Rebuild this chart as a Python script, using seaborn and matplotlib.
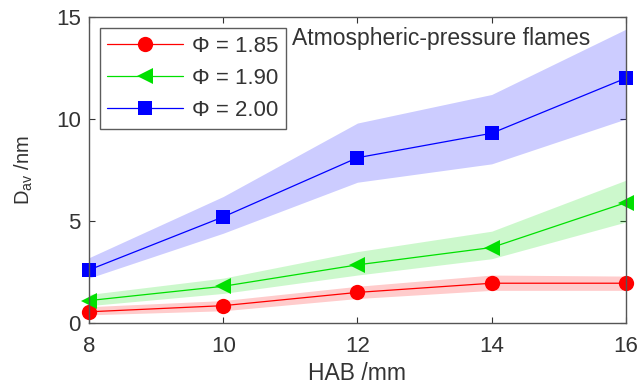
import numpy as np
import pandas as pd
import matplotlib
matplotlib.use("Agg")
import matplotlib.pyplot as plt
import seaborn as sns

hab = [8, 10, 12, 14, 16]
labels = ["Φ = 1.85", "Φ = 1.90", "Φ = 2.00"]
d_185 = [0.55, 0.85, 1.5, 1.95, 1.95]
lo_185 = [0.4, 0.6, 1.2, 1.6, 1.6]
hi_185 = [0.8, 1.1, 1.8, 2.35, 2.3]
d_190 = [1.1, 1.8, 2.85, 3.7, 5.9]
lo_190 = [0.85, 1.45, 2.35, 3.15, 4.95]
hi_190 = [1.4, 2.2, 3.5, 4.5, 7.0]
d_200 = [2.6, 5.2, 8.1, 9.3, 12.0]
lo_200 = [2.2, 4.4, 6.9, 7.8, 10.0]
hi_200 = [3.2, 6.2, 9.8, 11.2, 14.4]
xticks = [8, 10, 12, 14, 16]
yticks = [0, 5, 10, 15]

sns.set_style("white")
plt.rcParams['font.family'] = ['Liberation Sans', 'DejaVu Sans']
plt.rcParams['mathtext.default'] = 'regular'

rows = []
for lab, d in zip(labels, [d_185, d_190, d_200]):
    for x, v in zip(hab, d):
        rows.append({"HAB": x, "D": v, "phi": lab})
df = pd.DataFrame(rows)

colors = {"Φ = 1.85": "#ff0000", "Φ = 1.90": "#00e000", "Φ = 2.00": "#0000ff"}
markers = {"Φ = 1.85": "o", "Φ = 1.90": "<", "Φ = 2.00": "s"}
msizes = {"Φ = 1.85": 11, "Φ = 1.90": 11, "Φ = 2.00": 9.5}

fig = plt.figure(figsize=(6.4, 3.85), dpi=100)
ax = fig.add_axes([0.139, 0.161, 0.839, 0.795])

for lab, lo, hi in zip(labels, [lo_185, lo_190, lo_200], [hi_185, hi_190, hi_200]):
    ax.fill_between(hab, lo, hi, color=colors[lab], alpha=0.2, lw=0)

for lab in labels:
    sub = df[df.phi == lab]
    sns.lineplot(data=sub, x="HAB", y="D", ax=ax, color=colors[lab], lw=0.9,
                 alpha=1, marker=markers[lab], markersize=msizes[lab],
                 markeredgewidth=0, label=lab, clip_on=False)

for line in ax.lines:
    c = matplotlib.colors.to_rgba(line.get_color())
    line.set_color((c[0], c[1], c[2], 0.5))
    line.set_markerfacecolor(c[:3])
    line.set_markeredgecolor(c[:3])

ax.set_xlim(8, 16)
ax.set_ylim(0, 15)
ax.set_xticks(xticks)
ax.set_yticks(yticks)
ax.tick_params(axis='both', direction='in', length=4, width=0.8, labelsize=16,
               colors='#333333', top=True, right=True, left=True, bottom=True)
ax.tick_params(axis='x', pad=9)
ax.tick_params(axis='y', pad=6)
for sp in ax.spines.values():
    sp.set_color('#555555')
    sp.set_linewidth(1.0)
ax.set_xlabel("HAB /mm", fontsize=16.5, color='#333333')
ax.set_ylabel(r"D$_{av}$ /nm", fontsize=14.5, color='#333333')
ax.xaxis.set_label_coords(0.499, -0.127)
ax.yaxis.set_label_coords(-0.1, 0.5)

leg = ax.legend(loc='upper left', bbox_to_anchor=(0.02, 0.964), fontsize=16,
                frameon=True, fancybox=False, edgecolor='#333333', handlelength=3.4,
                borderpad=0.35, labelspacing=0.5, handletextpad=0.4, borderaxespad=0)
leg.get_frame().set_linewidth(1.0)
for t in leg.get_texts():
    t.set_color('#333333')

ax.text(0.378, 0.93, "Atmospheric-pressure flames", transform=ax.transAxes,
        fontsize=16.5, color='#333333', va='center', ha='left')

fig.savefig("out.png", dpi=100)
